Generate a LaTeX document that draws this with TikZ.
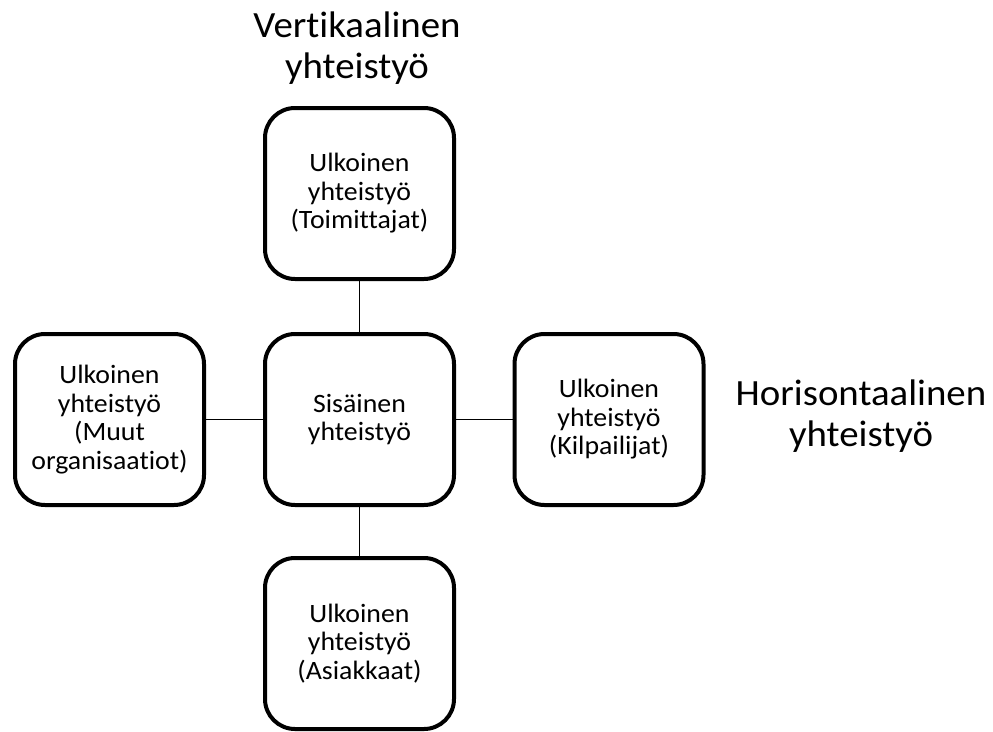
\documentclass[tikz,border=0pt]{standalone}
\usepackage{fontspec}
\setmainfont{Carlito}[FakeStretch=1.05, Ligatures=NoCommon]
\usepackage{tikz}

\tikzset{
  coop/.style={draw, line width=4pt, rounded corners=30pt, minimum width=189pt,
    minimum height=171pt, align=center, inner sep=0pt,
    font=\fontsize{26.5}{28.5}\selectfont},
  axislabel/.style={align=center, font=\fontsize{37}{40.5}\selectfont},
  link/.style={line width=1.5pt}
}

\begin{document}
\begin{tikzpicture}[x=1pt,y=-1pt]
		\useasboundingbox (0,0) rectangle (993,731);
		\node[coop] (sisainen) at (359.5,419.5) {Sisäinen\\yhteistyö};
		\node[coop] (toimittajat) at (359.5,193.5) {Ulkoinen\\yhteistyö\\(Toimittajat)};
		\node[coop] (asiakkaat) at (359.5,643.5) {Ulkoinen\\yhteistyö\\(Asiakkaat)};
		\node[coop] (muut) at (109.5,419.5) {Ulkoinen\\yhteistyö\\(Muut\\organisaatiot)};
		\node[coop] (kilpailijat) at (609,419.5) {Ulkoinen\\yhteistyö\\(Kilpailijat)};
		\node[axislabel] (vertikaalinen) at (357,48) {Vertikaalinen\\yhteistyö};
		\node[axislabel] (horisontaalinen) at (861,416) {Horisontaalinen\\yhteistyö};
		\draw[link] (toimittajat) -- (sisainen);
		\draw[link] (sisainen) -- (asiakkaat);
		\draw[link] (muut) -- (sisainen);
		\draw[link] (sisainen) -- (kilpailijat);
		\end{tikzpicture}
\end{document}
